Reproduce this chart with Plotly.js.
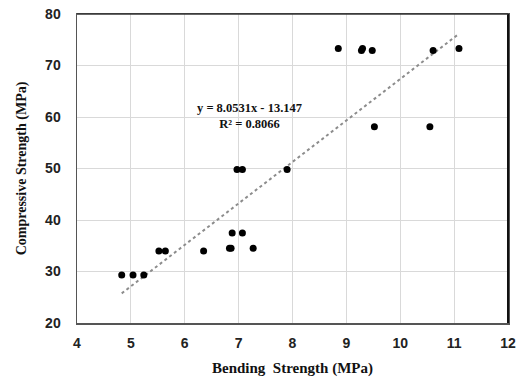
<!DOCTYPE html>
<html><head><meta charset="utf-8">
<script src="https://cdn.plot.ly/plotly-3.0.1.min.js"></script>
<style>html,body{margin:0;padding:0;background:#fff}#c{width:523px;height:378px}</style>
</head><body><div id="c"></div>
<script>
const bendingStrength = [8.85, 9.30, 9.28, 9.48, 10.61, 11.09, 9.52, 10.55, 6.97, 7.07, 7.90,
  4.83, 5.04, 5.24, 5.52, 5.64, 6.35, 6.83, 6.86, 6.88, 7.07, 7.27];
const compressiveStrength = [73.3, 73.3, 72.9, 72.9, 72.9, 73.3, 58.1, 58.1, 49.8, 49.8, 49.8,
  29.3, 29.3, 29.3, 34.0, 34.0, 34.0, 34.5, 34.5, 37.5, 37.5, 34.5];
const trendX = [4.83, 11.09];
const trendY = [25.75, 76.16];
const equationText = "y = 8.0531x - 13.147<br>R² = 0.8066";
const xTicks = [4, 5, 6, 7, 8, 9, 10, 11, 12];
const yTicks = [20, 30, 40, 50, 60, 70, 80];

const tickFont = {family: "Liberation Sans, Arial, sans-serif", size: 14, color: "#222", weight: "bold"};
const titleFont = {family: "Liberation Serif, Times New Roman, serif", size: 14, color: "#111", weight: "bold"};

const data = [
  {x: trendX, y: trendY, mode: "lines", type: "scatter",
   line: {color: "#8c8c8c", width: 2, dash: "dot"}, hoverinfo: "skip"},
  {x: bendingStrength, y: compressiveStrength, mode: "markers", type: "scatter",
   marker: {color: "#000", size: 7}}
];
const layout = {
  width: 523, height: 378,
  margin: {l: 77, r: 15, t: 14, b: 55},
  showlegend: false,
  paper_bgcolor: "#fff", plot_bgcolor: "#fff",
  xaxis: {range: [4, 12], tickvals: xTicks, ticks: "outside", tickcolor: "rgba(0,0,0,0)", ticklen: 7,
    showgrid: true, gridcolor: "#d9d9d9",
    zeroline: false, showline: true, mirror: true, linecolor: "#555", linewidth: 1.5,
    tickfont: tickFont,
    title: {text: "Bending  Strength (MPa)", font: Object.assign({}, titleFont, {size: 15}), standoff: 12}},
  yaxis: {range: [20, 80], tickvals: yTicks, ticks: "outside", tickcolor: "rgba(0,0,0,0)", ticklen: 12,
    showgrid: true, gridcolor: "#d9d9d9",
    zeroline: false, showline: true, mirror: true, linecolor: "#555", linewidth: 1.5,
    tickfont: tickFont,
    title: {text: "Compressive Strength (MPa)", font: titleFont, standoff: 15}},
  shapes: [
    {type: "line", xref: "paper", yref: "paper", x0: 1, x1: 1, y0: 0, y1: 1, line: {color: "#111", width: 2}},
    {type: "line", xref: "paper", yref: "paper", x0: 0, x1: 1, y0: 1, y1: 1, line: {color: "#333", width: 1.5}}
  ],
  annotations: [{x: 7.21, y: 60.2, xref: "x", yref: "y", text: equationText, showarrow: false,
    align: "center", font: {family: "Liberation Serif, Times New Roman, serif", size: 12.5, color: "#111", weight: "bold"}}]
};
Plotly.newPlot("c", data, layout, {staticPlot: true, displayModeBar: false});
</script></body></html>
